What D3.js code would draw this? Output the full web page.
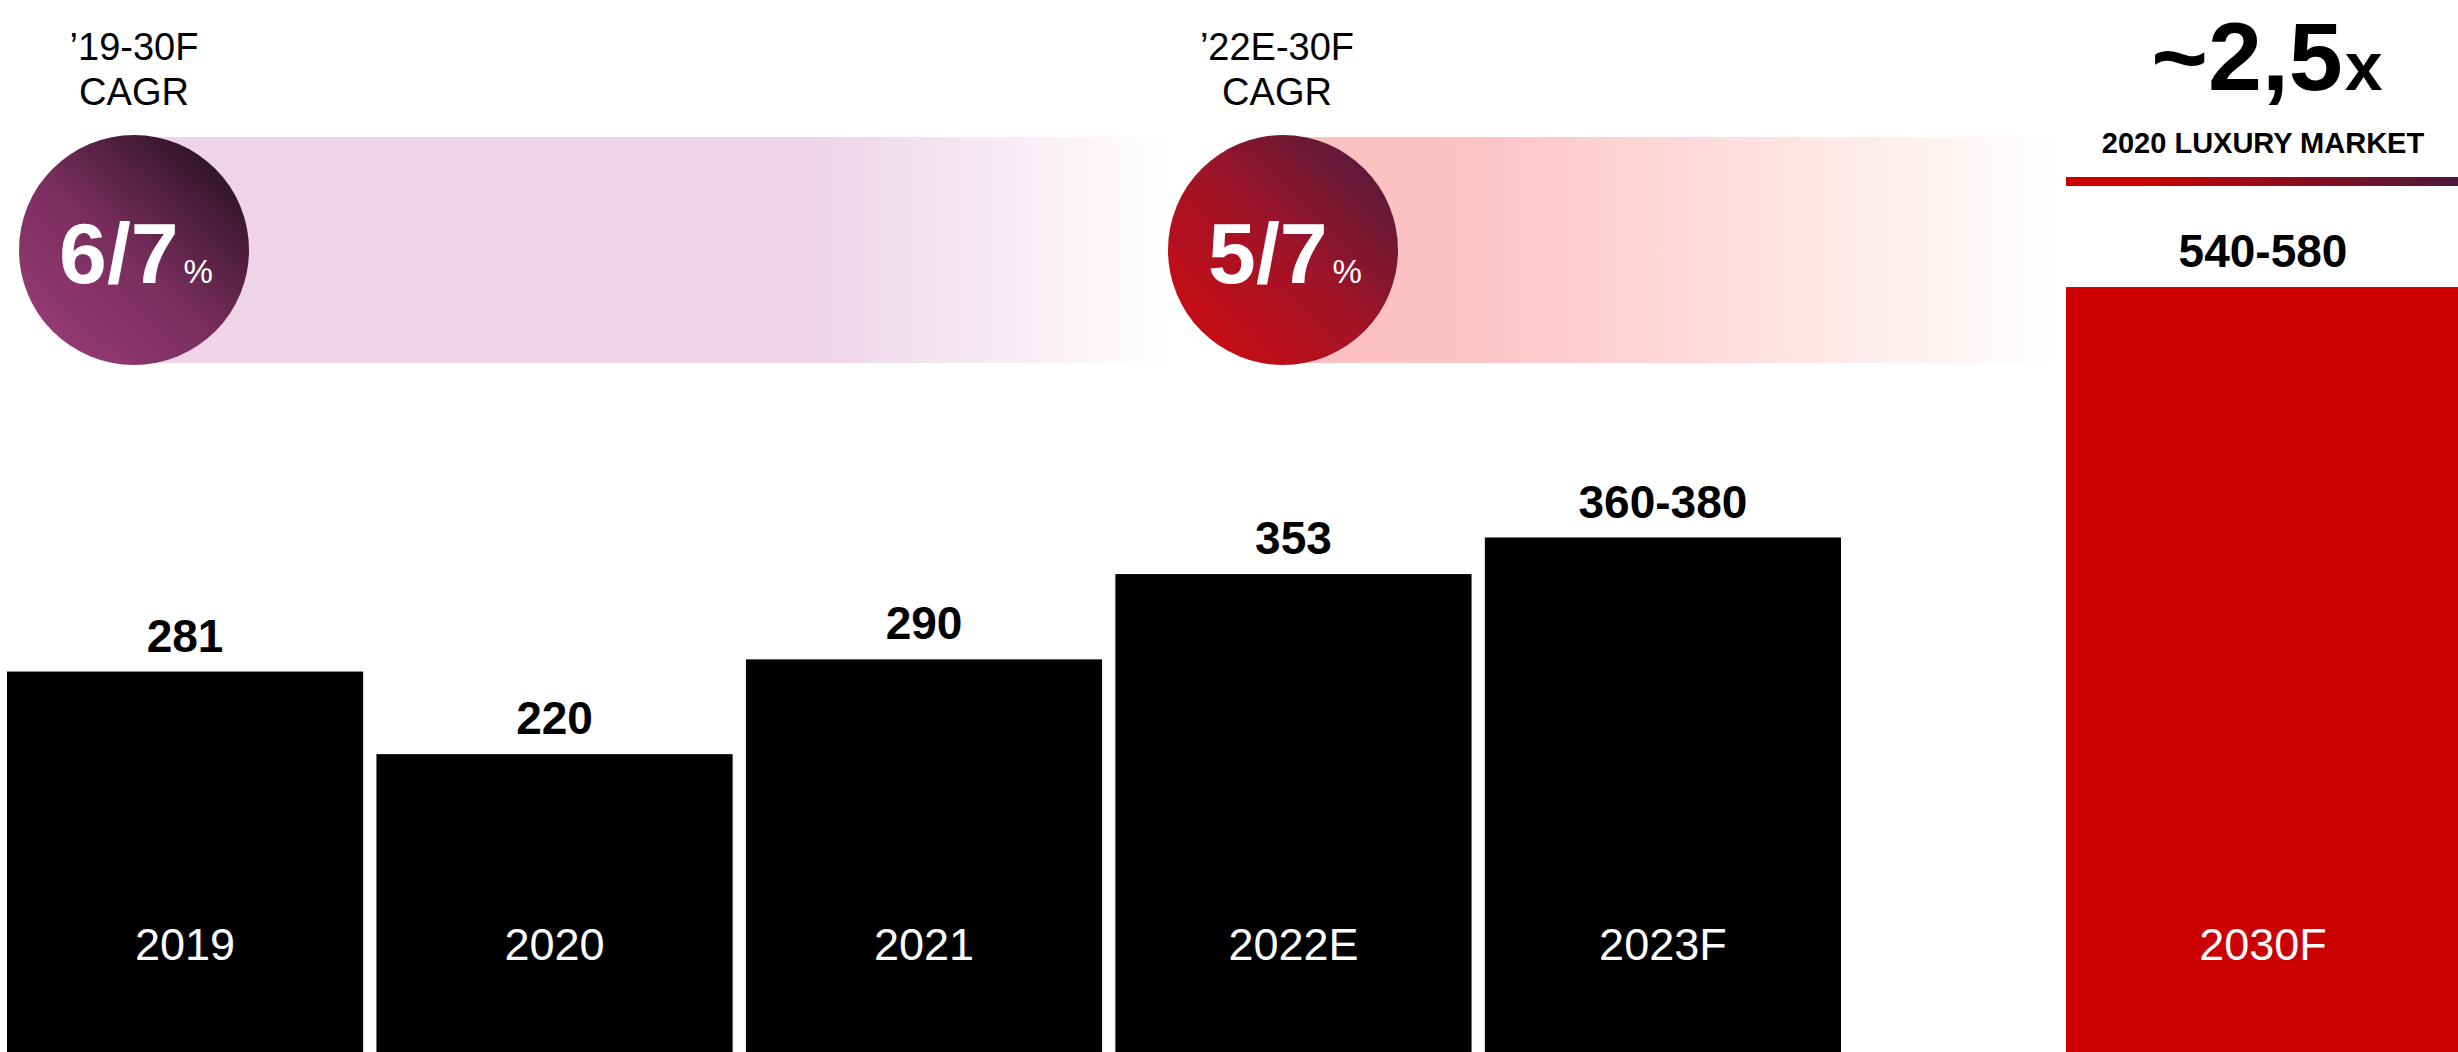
<!DOCTYPE html>
<html>
<head>
<meta charset="utf-8">
<script src="https://cdn.jsdelivr.net/npm/d3@7"></script>
<style>
  html, body { margin: 0; padding: 0; background: #fff; }
  svg { display: block; font-family: "Liberation Sans", Arial, sans-serif; }
</style>
</head>
<body>
<svg id="chart"></svg>
<script>
// Luxury market size, € bn
const categories = ["2019", "2020", "2021", "2022E", "2023F", "2030F"];
const barValues = [281, 220, 290, 353, 380, 565];
const valueLabels = ["281", "220", "290", "353", "360-380", "540-580"];
const forecastCategories = ["2030F"];

// CAGR callouts
const cagrPeriods = ["’19-30F", "’22E-30F"];
const cagrValues = ["6/7", "5/7"];

// Multiple versus the 2020 market
const multipleLabel = "~2,5";
const multipleUnit = "x";
const multipleCaption = "2020 LUXURY MARKET";

const W = 2458, H = 1052;
const svg = d3.select("#chart").attr("width", W).attr("height", H);
const defs = svg.append("defs");

const historic = categories.filter(c => !forecastCategories.includes(c));
const data = categories.map((c, i) => ({ cat: c, value: barValues[i], label: valueLabels[i] }));

const xHist = d3.scaleBand().domain(historic).range([7, 1841]).paddingInner(0.036).paddingOuter(0);
const xFore = d3.scaleBand().domain(forecastCategories).range([2066, 2460]);
const xPos = c => forecastCategories.includes(c) ? xFore(c) : xHist(c);
const xBw = c => forecastCategories.includes(c) ? xFore.bandwidth() : xHist.bandwidth();
const y = d3.scaleLinear().domain([0, 777]).range([H, 0]);

// ---- gradients ----
function linGrad(id, x1, y1, x2, y2, stops) {
  const g = defs.append("linearGradient").attr("id", id)
    .attr("x1", x1).attr("y1", y1).attr("x2", x2).attr("y2", y2);
  stops.forEach(([o, c, a]) => g.append("stop").attr("offset", o).attr("stop-color", c)
    .attr("stop-opacity", a == null ? 1 : a));
}
linGrad("band1", "0", "0", "1", "0", [[0, "#eed4e6"], [0.65, "#eed4e6"], [1, "#eed4e6", 0]]);
linGrad("band2", "0", "0", "1", "0", [[0, "#fdbfbf"], [0.25, "#fdc4c4"], [1, "#fdc4c4", 0]]);
linGrad("circ1", "0.15", "0.9", "0.9", "0.1", [[0, "#943a74"], [0.45, "#7a2e5e"], [1, "#2a1222"]]);
linGrad("circ2", "0.15", "0.9", "0.9", "0.1", [[0, "#c80c14"], [0.5, "#a01428"], [1, "#561a3a"]]);
linGrad("rule", "0", "0", "1", "0", [[0, "#cc0000"], [0.17, "#cc0000"], [1, "#4a1a3c"]]);

// ---- CAGR bands and circles ----
const cagr = [
  { period: cagrPeriods[0], value: cagrValues[0], cx: 134, bandEnd: 1172, band: "band1", fill: "circ1", textX: 134 },
  { period: cagrPeriods[1], value: cagrValues[1], cx: 1283, bandEnd: 2059, band: "band2", fill: "circ2", textX: 1277 }
];
const cy = 250, r = 115;

svg.selectAll("rect.band").data(cagr).join("rect").attr("class", "band")
  .attr("x", d => d.cx).attr("y", 137).attr("width", d => d.bandEnd - d.cx).attr("height", 226)
  .attr("fill", d => `url(#${d.band})`);

svg.selectAll("circle.cagr").data(cagr).join("circle").attr("class", "cagr")
  .attr("cx", d => d.cx).attr("cy", cy).attr("r", r).attr("fill", d => `url(#${d.fill})`);

const cagrText = svg.selectAll("text.cagrval").data(cagr).join("text").attr("class", "cagrval")
  .attr("x", d => d.cx + 2).attr("y", 283).attr("text-anchor", "middle").attr("fill", "#fff");
cagrText.append("tspan").attr("font-size", 86).attr("font-weight", "bold").text(d => d.value);
cagrText.append("tspan").attr("font-size", 33).attr("dx", 5).text("%");

const head = svg.selectAll("text.period").data(cagr).join("text").attr("class", "period")
  .attr("text-anchor", "middle").attr("font-size", 38).attr("fill", "#000");
head.append("tspan").attr("x", d => d.textX).attr("y", 60).text(d => d.period);
head.append("tspan").attr("x", d => d.textX).attr("y", 105).text("CAGR");

// ---- bars ----
svg.selectAll("rect.bar").data(data).join("rect").attr("class", "bar")
  .attr("x", d => xPos(d.cat)).attr("width", d => xBw(d.cat))
  .attr("y", d => y(d.value)).attr("height", d => H - y(d.value))
  .attr("fill", d => forecastCategories.includes(d.cat) ? "#cc0000" : "#000");

svg.selectAll("text.vlabel").data(data).join("text").attr("class", "vlabel")
  .attr("x", d => xPos(d.cat) + xBw(d.cat) / 2)
  .attr("y", d => y(d.value) - 20)
  .attr("text-anchor", "middle").attr("font-size", 46).attr("font-weight", "bold").attr("fill", "#000")
  .text(d => d.label);

svg.selectAll("text.cat").data(data).join("text").attr("class", "cat")
  .attr("x", d => xPos(d.cat) + xBw(d.cat) / 2)
  .attr("y", 960).attr("text-anchor", "middle").attr("font-size", 45).attr("fill", "#fff")
  .text(d => d.cat);

// ---- multiple callout above the forecast bar ----
const fx = xFore("2030F") + xFore.bandwidth() / 2;
const mult = svg.append("text").attr("x", fx + 4).attr("y", 90).attr("text-anchor", "middle")
  .attr("font-weight", "bold").attr("fill", "#000");
mult.append("tspan").attr("font-size", 97).text(multipleLabel);
mult.append("tspan").attr("font-size", 68).attr("dx", 2).text(multipleUnit);

svg.append("text").attr("x", fx).attr("y", 153).attr("text-anchor", "middle")
  .attr("font-size", 29).attr("font-weight", "bold").attr("fill", "#000").text(multipleCaption);

svg.append("rect").attr("x", xFore("2030F")).attr("y", 177)
  .attr("width", W - xFore("2030F")).attr("height", 9).attr("fill", "url(#rule)");
</script>
</body>
</html>
